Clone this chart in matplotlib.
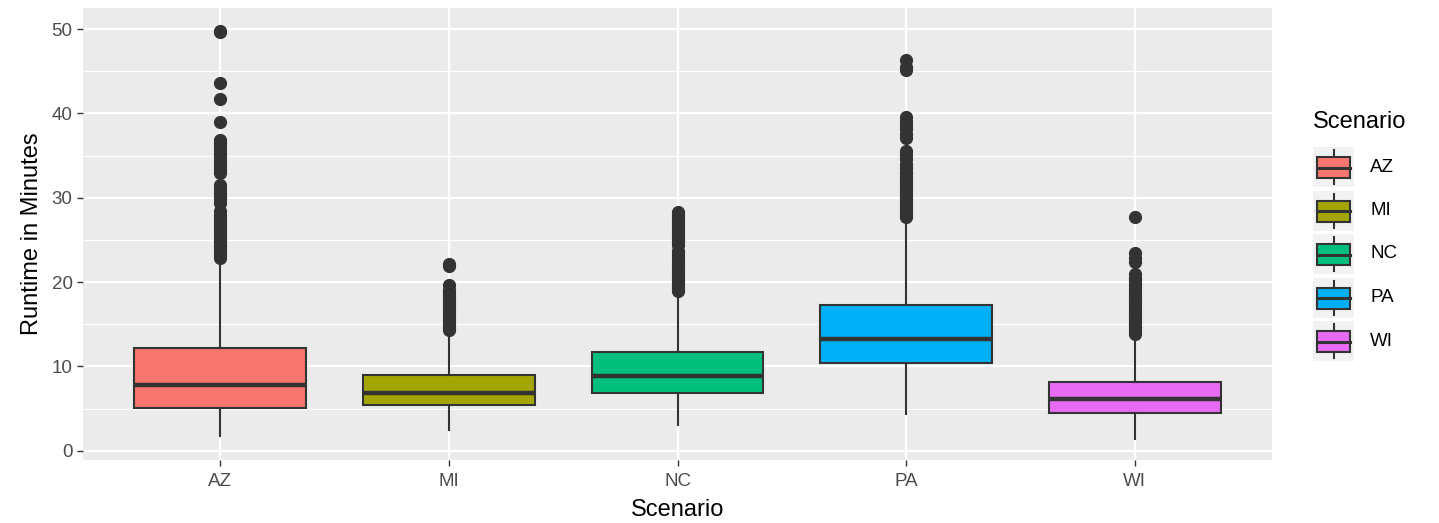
import matplotlib.pyplot as plt
from matplotlib.patches import Rectangle

plt.rcParams['font.family'] = ['Liberation Sans', 'DejaVu Sans']

# values
scenarios = ['AZ', 'MI', 'NC', 'PA', 'WI']
colors = ['#F8766D', '#A3A500', '#00BF7D', '#00B0F6', '#E76BF3']
q1 = [5.1, 5.4, 6.9, 10.4, 4.5]
medians = [7.8, 6.9, 8.9, 13.2, 6.1]
q3 = [12.2, 9.0, 11.7, 17.3, 8.2]
whis_lo = [1.7, 2.5, 3.1, 4.3, 1.4]
whis_hi = [22.7, 14.0, 18.8, 27.3, 13.6]

fliers_az = [22.9, 23.2, 23.5, 23.8, 24.1, 24.4, 24.7, 25.0, 25.3, 25.6, 25.9,
             26.2, 26.5, 26.8, 27.1, 27.4, 27.7, 28.0, 28.4, 29.4, 29.8, 30.2,
             30.6, 31.0, 31.5, 32.9, 33.3, 33.7, 34.1, 34.5, 34.9, 35.3, 35.7,
             36.1, 36.5, 36.9, 39.0, 41.7, 43.6, 49.6, 49.8]
fliers_mi = [14.3, 14.6, 14.9, 15.2, 15.5, 15.8, 16.1, 16.4, 16.7, 17.0, 17.3,
             17.6, 17.9, 18.2, 18.5, 18.8, 19.1, 19.7, 21.9, 22.2]
fliers_nc = [18.9, 19.2, 19.5, 19.8, 20.1, 20.4, 20.7, 21.0, 21.3, 21.6, 21.9,
             22.2, 22.5, 22.9, 23.3, 23.7, 24.4, 24.7, 25.0, 25.3, 25.6, 25.9,
             26.2, 26.5, 26.8, 27.1, 27.4, 27.7, 28.0, 28.3]
fliers_pa = [27.7, 28.0, 28.3, 28.6, 28.9, 29.2, 29.5, 29.8, 30.1, 30.4, 30.7,
             31.0, 31.3, 31.6, 31.9, 32.2, 32.5, 32.8, 33.1, 33.5, 34.0, 34.6,
             35.1, 35.6, 37.1, 37.6, 38.1, 38.6, 39.1, 39.6, 45.1, 45.5, 46.3]
fliers_wi = [13.9, 14.2, 14.5, 14.8, 15.1, 15.4, 15.7, 16.0, 16.3, 16.6, 16.9,
             17.2, 17.5, 17.8, 18.1, 18.4, 18.7, 19.0, 19.3, 19.6, 19.9, 20.2,
             20.5, 20.9, 22.4, 22.8, 23.5, 27.7]
fliers = [fliers_az, fliers_mi, fliers_nc, fliers_pa, fliers_wi]

stats = []
for i in range(len(scenarios)):
    stats.append({'label': scenarios[i], 'q1': q1[i], 'med': medians[i], 'q3': q3[i],
                  'whislo': whis_lo[i], 'whishi': whis_hi[i], 'fliers': fliers[i]})

W, H = 1439, 523
fig = plt.figure(figsize=(W / 100, H / 100), dpi=100)
ax = fig.add_axes([83 / W, 1 - 460 / H, (1272 - 83) / W, (460 - 8) / H])
ax.set_facecolor('#EBEBEB')

edge = '#333333'
bp = ax.bxp(stats, positions=range(1, 6), widths=0.75, patch_artist=True,
            showcaps=False,
            boxprops=dict(edgecolor=edge, linewidth=1.5),
            whiskerprops=dict(color=edge, linewidth=1.5),
            medianprops=dict(color=edge, linewidth=3.2, solid_capstyle='butt'),
            flierprops=dict(marker='o', markersize=8.5, markerfacecolor=edge,
                            markeredgecolor=edge))
for patch, c in zip(bp['boxes'], colors):
    patch.set_facecolor(c)

ax.set_xlim(0.4, 5.6)
ax.set_ylim(-1.1, 52.5)
ax.set_yticks([0, 10, 20, 30, 40, 50])
ax.set_yticks([5, 15, 25, 35, 45], minor=True)
ax.set_xticks(range(1, 6))
ax.set_xticklabels(scenarios)
ax.grid(True, which='major', color='white', linewidth=1.6)
ax.grid(True, which='minor', axis='y', color='white', linewidth=0.8)
ax.set_axisbelow(True)
for s in ax.spines.values():
    s.set_visible(False)
ax.tick_params(axis='both', which='major', colors=edge, labelcolor='#4D4D4D',
               labelsize=13.5, length=4, width=1)
ax.tick_params(axis='x', which='major', pad=5)
ax.tick_params(axis='y', which='minor', length=0)
ax.set_xlabel('Scenario', fontsize=17, labelpad=7)
ax.set_ylabel('Runtime in Minutes', fontsize=17, labelpad=6)

# legend drawn in pixel space
lg = fig.add_axes([0, 0, 1, 1], facecolor='none')
lg.set_xlim(0, W)
lg.set_ylim(H, 0)
lg.axis('off')
lg.text(1313, 122, 'Scenario', fontsize=17, va='center', ha='left')
for i, (name, c) in enumerate(zip(scenarios, colors)):
    top = 147 + i * 43.5
    lg.add_patch(Rectangle((1313, top), 41, 40, facecolor='#F2F2F2', edgecolor='none',
                           zorder=1))
    lg.plot([1333.5, 1333.5], [top + 3, top + 37], color=edge, linewidth=1.5, zorder=2)
    lg.add_patch(Rectangle((1317, top + 10), 33, 21, facecolor=c, edgecolor=edge,
                           linewidth=1.5, zorder=3))
    lg.plot([1317, 1350], [top + 20.5, top + 20.5], color=edge, linewidth=2.2, zorder=4)
    lg.text(1370, top + 20, name, fontsize=13.5, va='center', ha='left')

fig.savefig('out.png', dpi=100)
